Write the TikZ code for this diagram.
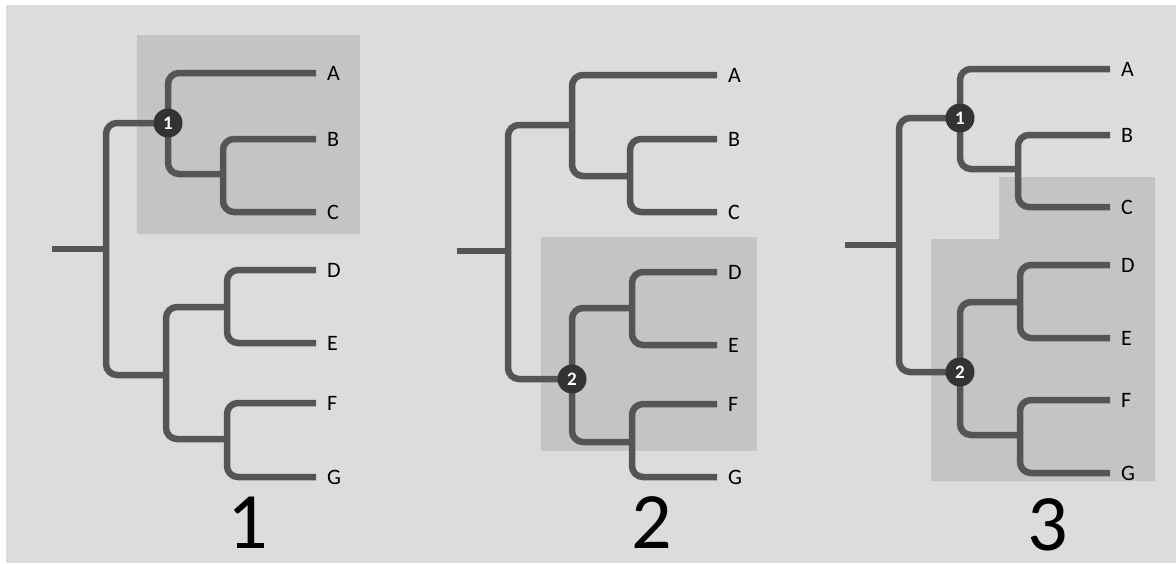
\documentclass[tikz,border=0pt]{standalone}
\usepackage{fontspec}
\setmainfont{Carlito}
\definecolor{bg}{HTML}{DCDCDC}
\definecolor{shade}{HTML}{C4C4C4}
\definecolor{branchcol}{HTML}{555555}
\definecolor{dotcol}{HTML}{333333}
\tikzset{
  branch/.style={draw=branchcol, line width=6.5pt, rounded corners=11pt},
  leaflabel/.style={anchor=west, inner sep=0pt, font=\fontsize{22}{22}\selectfont, text=black},
  dot/.style={circle, fill=dotcol, minimum size=29pt, inner sep=0pt, text=white, font=\fontsize{19}{19}\selectfont\bfseries},
  bignum/.style={anchor=base, inner sep=0pt, font=\fontsize{80}{80}\selectfont, text=black},
  shadebox/.style={fill=shade, draw=none}
}
\begin{document}
\begin{tikzpicture}[x=1pt,y=-1pt]
\useasboundingbox (0,0) rectangle (1176,563);
\fill[white] (0,0) rectangle (1176,563);
\fill[bg] (6,5) rectangle (1176,563);

% ---------- shaded regions ----------
\fill[shadebox] (137,35) rectangle (360,234);
\fill[shadebox] (541,237) rectangle (757,451);
\fill[shadebox] (999,177) -- (1155,177) -- (1155,481) -- (931,481) -- (931,239) -- (999,239) -- cycle;

% ================= Panel 1 =================
\coordinate (p1r0) at (52,249);
\coordinate (p1r) at (106,249);
\coordinate (p1n1) at (168,123);
\coordinate (p1n2) at (166,375);
\coordinate (p1A) at (316,73);
\coordinate (p1B) at (316,139);
\coordinate (p1C) at (316,212);
\coordinate (p1D) at (316,270);
\coordinate (p1E) at (316,343);
\coordinate (p1F) at (316,403);
\coordinate (p1G) at (316,477);
\coordinate (p1bc) at (223,174);
\coordinate (p1de) at (227,307);
\coordinate (p1fg) at (227,439);

\draw[branch] (p1r0) -- (p1r);
\draw[branch] (p1n1) -- (p1r |- p1n1) -- (p1r |- p1n2) -- (p1n2);
\draw[branch] (p1A) -- (p1n1 |- p1A) -- (p1n1 |- p1bc) -- (p1bc);
\draw[branch] (p1B) -- (p1bc |- p1B) -- (p1bc |- p1C) -- (p1C);
\draw[branch] (p1de) -- (p1n2 |- p1de) -- (p1n2 |- p1fg) -- (p1fg);
\draw[branch] (p1D) -- (p1de |- p1D) -- (p1de |- p1E) -- (p1E);
\draw[branch] (p1F) -- (p1fg |- p1F) -- (p1fg |- p1G) -- (p1G);

\node[dot] (p1c1) at (p1n1) {1};

\node[leaflabel] (p1lA) at ([xshift=11pt]p1A) {A};
\node[leaflabel] (p1lB) at ([xshift=11pt]p1B) {B};
\node[leaflabel] (p1lC) at ([xshift=11pt]p1C) {C};
\node[leaflabel] (p1lD) at ([xshift=11pt]p1D) {D};
\node[leaflabel] (p1lE) at ([xshift=11pt]p1E) {E};
\node[leaflabel] (p1lF) at ([xshift=11pt]p1F) {F};
\node[leaflabel] (p1lG) at ([xshift=11pt]p1G) {G};
\node[bignum] (num1) at (248,548) {1};

% ================= Panel 2 =================
\coordinate (p2r0) at (457,251);
\coordinate (p2r) at (508,251);
\coordinate (p2n1) at (572,125);
\coordinate (p2n2) at (572,379);
\coordinate (p2A) at (717,75);
\coordinate (p2B) at (717,139);
\coordinate (p2C) at (717,212);
\coordinate (p2D) at (717,272);
\coordinate (p2E) at (717,345);
\coordinate (p2F) at (717,404);
\coordinate (p2G) at (717,477);
\coordinate (p2bc) at (630,176);
\coordinate (p2de) at (632,308);
\coordinate (p2fg) at (632,442);

\draw[branch] (p2r0) -- (p2r);
\draw[branch] (p2n1) -- (p2r |- p2n1) -- (p2r |- p2n2) -- (p2n2);
\draw[branch] (p2A) -- (p2n1 |- p2A) -- (p2n1 |- p2bc) -- (p2bc);
\draw[branch] (p2B) -- (p2bc |- p2B) -- (p2bc |- p2C) -- (p2C);
\draw[branch] (p2de) -- (p2n2 |- p2de) -- (p2n2 |- p2fg) -- (p2fg);
\draw[branch] (p2D) -- (p2de |- p2D) -- (p2de |- p2E) -- (p2E);
\draw[branch] (p2F) -- (p2fg |- p2F) -- (p2fg |- p2G) -- (p2G);

\node[dot] (p2c2) at (p2n2) {2};

\node[leaflabel] (p2lA) at ([xshift=11pt]p2A) {A};
\node[leaflabel] (p2lB) at ([xshift=11pt]p2B) {B};
\node[leaflabel] (p2lC) at ([xshift=11pt]p2C) {C};
\node[leaflabel] (p2lD) at ([xshift=11pt]p2D) {D};
\node[leaflabel] (p2lE) at ([xshift=11pt]p2E) {E};
\node[leaflabel] (p2lF) at ([xshift=11pt]p2F) {F};
\node[leaflabel] (p2lG) at ([xshift=11pt]p2G) {G};
\node[bignum] (num2) at (652,548) {2};

% ================= Panel 3 =================
\coordinate (p3r0) at (845,245);
\coordinate (p3r) at (899,245);
\coordinate (p3n1) at (960,118);
\coordinate (p3n2) at (960,372);
\coordinate (p3A) at (1110,69);
\coordinate (p3B) at (1110,135);
\coordinate (p3C) at (1110,207);
\coordinate (p3D) at (1110,265);
\coordinate (p3E) at (1110,338);
\coordinate (p3F) at (1110,400);
\coordinate (p3G) at (1110,473);
\coordinate (p3bc) at (1018,169);
\coordinate (p3de) at (1020,302);
\coordinate (p3fg) at (1020,435);

\draw[branch] (p3r0) -- (p3r);
\draw[branch] (p3n1) -- (p3r |- p3n1) -- (p3r |- p3n2) -- (p3n2);
\draw[branch] (p3A) -- (p3n1 |- p3A) -- (p3n1 |- p3bc) -- (p3bc);
\draw[branch] (p3B) -- (p3bc |- p3B) -- (p3bc |- p3C) -- (p3C);
\draw[branch] (p3de) -- (p3n2 |- p3de) -- (p3n2 |- p3fg) -- (p3fg);
\draw[branch] (p3D) -- (p3de |- p3D) -- (p3de |- p3E) -- (p3E);
\draw[branch] (p3F) -- (p3fg |- p3F) -- (p3fg |- p3G) -- (p3G);

\node[dot] (p3c1) at (p3n1) {1};
\node[dot] (p3c2) at (p3n2) {2};

\node[leaflabel] (p3lA) at ([xshift=11pt]p3A) {A};
\node[leaflabel] (p3lB) at ([xshift=11pt]p3B) {B};
\node[leaflabel] (p3lC) at ([xshift=11pt]p3C) {C};
\node[leaflabel] (p3lD) at ([xshift=11pt]p3D) {D};
\node[leaflabel] (p3lE) at ([xshift=11pt]p3E) {E};
\node[leaflabel] (p3lF) at ([xshift=11pt]p3F) {F};
\node[leaflabel] (p3lG) at ([xshift=11pt]p3G) {G};
\node[bignum] (num3) at (1048,550) {3};
\end{tikzpicture}
\end{document}
